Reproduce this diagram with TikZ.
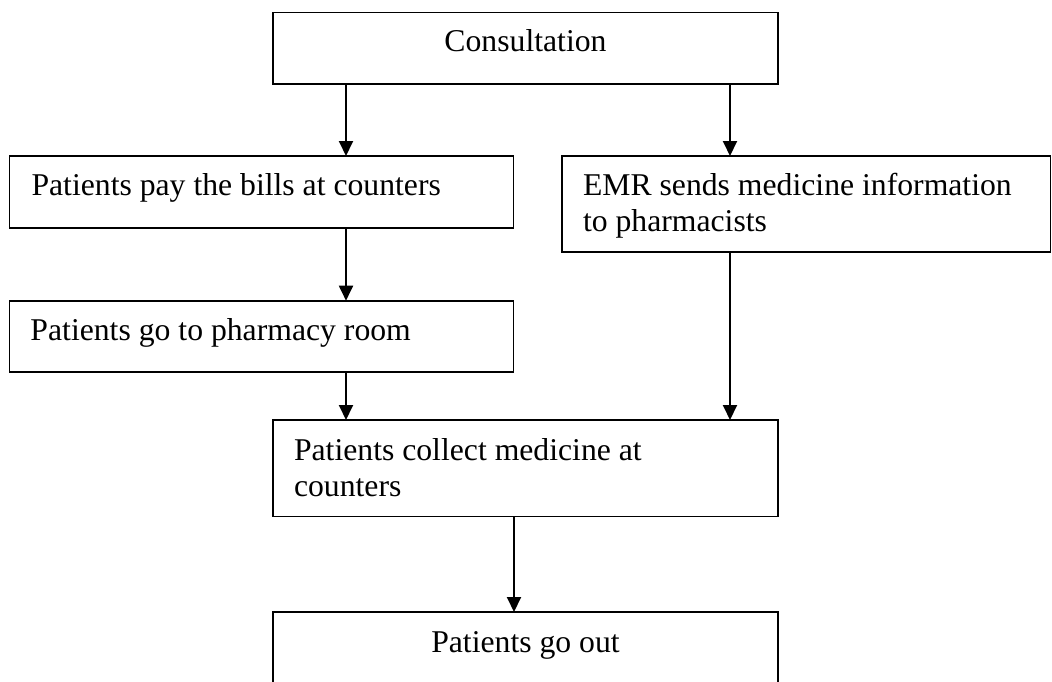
\documentclass[tikz,border=0pt]{standalone}
\usepackage{fontspec}
\setmainfont{Liberation Serif}
\usetikzlibrary{arrows.meta}
\begin{document}
\begin{tikzpicture}[x=1pt,y=-1pt,
  box/.style={draw=black, line width=1.9pt, outer sep=0pt, inner sep=0pt,
    anchor=north west},
  txt/.style={inner sep=0pt, outer sep=0pt,
    font=\fontsize{31.7pt}{36.7pt}\selectfont},
  multi/.style={txt, text width=#1, align=flush left},
  arr/.style={line width=1.9pt, -{Triangle[length=15pt,width=14pt]}}]
  % page frame
  \path[use as bounding box, fill=white] (0,0) rectangle (1052,681);
  \clip (0,0) rectangle (1052,681);

  % columns used by the vertical connectors
  \coordinate (colL) at (346,0);
  \coordinate (colM) at (514,0);
  \coordinate (colR) at (730,0);

  % boxes
  \node[box, minimum width=505pt,   minimum height=71.5pt] (cons)    at (273,12.5)  {};
  \node[box, minimum width=504pt,   minimum height=72pt]   (pay)     at (9.5,156)   {};
  \node[box, minimum width=488.5pt, minimum height=95.7pt] (emr)     at (562,156)   {};
  \node[box, minimum width=504pt,   minimum height=71pt]   (pharm)   at (9.5,300.7) {};
  \node[box, minimum width=505pt,   minimum height=96.5pt] (collect) at (273,420)   {};
  \node[box, minimum width=505pt,   minimum height=100pt]  (out)     at (273,612)   {};

  % texts
  \node[txt, anchor=base] (tcons) at ([yshift=-39pt]cons.north) {Consultation};
  \node[txt, anchor=base west] (tpay) at ([xshift=22pt,yshift=-39pt]pay.north west)
    {Patients pay the bills at counters};
  \node[multi=460pt, anchor=base west] (temr) at ([xshift=21pt,yshift=-39pt]emr.north west)
    {EMR sends medicine information\\to pharmacists};
  \node[txt, anchor=base west] (tpharm) at ([xshift=21pt,yshift=-40pt]pharm.north west)
    {Patients go to pharmacy room};
  \node[multi=470pt, anchor=base west] (tcollect) at ([xshift=21pt,yshift=-40pt]collect.north west)
    {Patients collect medicine at\\counters};
  \node[txt, anchor=base] (tout) at ([yshift=-40pt]out.north) {Patients go out};

  % connectors
  \draw[arr] (cons.south -| colL)    -- (pay.north -| colL);
  \draw[arr] (cons.south -| colR)    -- (emr.north -| colR);
  \draw[arr] (pay.south -| colL)     -- (pharm.north -| colL);
  \draw[arr] (pharm.south -| colL)   -- (collect.north -| colL);
  \draw[arr] (emr.south -| colR)     -- (collect.north -| colR);
  \draw[arr] (collect.south -| colM) -- (out.north -| colM);
\end{tikzpicture}
\end{document}
